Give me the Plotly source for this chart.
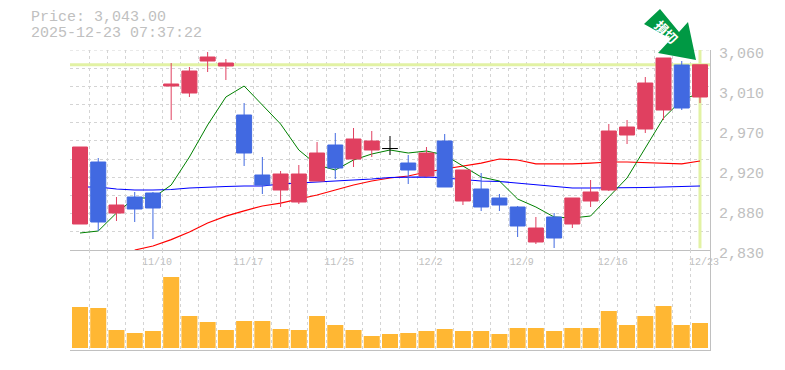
import plotly.graph_objects as go

P_TOP, P_BOT = 3060.0, 2830.0
dates = ["11/4","11/5","11/6","11/7","11/10","11/11","11/12","11/13","11/14","11/15","11/17","11/18","11/19","11/20","11/25","11/26","11/27","11/28","12/1","12/2","12/3","12/4","12/5","12/8","12/9","12/10","12/11","12/12","12/15","12/16","12/17","12/18","12/19","12/22","12/23"]
opens  = [2859.9,2931.2,2872.55,2890.95,2895.55,3018.6,3010.55,3047.35,3041.6,2985.25,2916.25,2899,2885.2,2909.35,2950.75,2934.65,2945,2946.7,2930.05,2915.1,2955.35,2886.35,2900.15,2889.8,2879.45,2839.2,2867.95,2859.9,2886.35,2899,2962.25,2969.15,2991,3042.75,3005.95]
closes = [2948.45,2862.2,2881.75,2877.15,2878.3,3020.9,3035.85,3051.95,3045.05,2941.55,2904.75,2917.4,2917.4,2941.55,2924.3,2957.65,2955.35,2946.7,2922,2941.55,2902.45,2922,2879.45,2881.75,2857.6,2855.3,2843.8,2889.8,2896.7,2966.85,2971.45,3022.05,3050.8,2993.3,3043]
highs  = [2948.45,2935.8,2890.95,2896.7,2896.7,3045.05,3040.45,3057.7,3049.65,2999.05,2936.95,2920.85,2927.75,2954.2,2964.55,2970.3,2966.85,2961.1,2939.25,2948.45,2963.4,2922,2918.55,2894.4,2880.6,2867.95,2872.55,2889.8,2910.5,2974.9,2979.5,3028.95,3050.8,3047.35,3043]
lows   = [2859.9,2851.85,2863.35,2862.2,2842.65,2979.5,3005.95,3034.7,3025.5,2926.6,2894.4,2879.45,2882.9,2909.35,2911.65,2925.45,2936.95,2939.25,2905.9,2913.95,2902.45,2881.75,2874.85,2874.85,2844.95,2836.9,2832.3,2855.3,2879.45,2897.85,2951.9,2964.55,2979.5,2991,2999.05]
volumes = [41,40,18,15,17,71,32,26,18,27,27,19,18,32,23,18,12,14,15,17,19,17,17,14,20,20,17,20,20,37,23,32,42,23,25]
ma_fast = [2849.55,2851.85,2872.55,2889.8,2889.8,2904.75,2936.95,2973.75,3005.95,3018.6,2996.75,2974.9,2945,2927.75,2922,2933.5,2940.4,2945,2941.55,2943.85,2939.25,2926.6,2913.95,2909.35,2888.65,2879.45,2867.95,2866.8,2869.1,2891,2912.8,2947.3,2981.8,3002.5,3010.55]
ma_mid  = [2902.45,2902.45,2900.15,2899,2899,2899.6,2901.3,2902.45,2903,2903.6,2903.6,2905.9,2907,2908.2,2909.35,2910.5,2911.65,2913.4,2914,2914,2912.8,2911.1,2909.35,2908.8,2907,2904.75,2903.6,2901.3,2901.3,2901.3,2901.3,2901.9,2902.45,2903,2903.6]
ma_slow = [None,None,None,2830,2834.6,2842,2850.7,2861,2869,2875,2880.6,2884,2888.65,2893.25,2899,2904.75,2909.35,2912.8,2915.1,2919.7,2923.15,2926.6,2930,2934.65,2933.5,2929,2929,2929,2930,2931.2,2931.2,2930.6,2930,2929,2932.35]
last_price = [3043.0]
price_ticks = [3060, 3014, 2968, 2922, 2876, 2830]
price_labels = ["3,060", "3,010", "2,970", "2,920", "2,880", "2,830"]
date_idx = [4, 9, 14, 19, 24, 29, 34]
date_labels = ["11/10", "11/17", "11/25", "12/2", "12/9", "12/16", "12/23"]
title_lines = ["Price: 3,043.00", "2025-12-23 07:37:22"]
signal_text = "損切"

x = list(range(len(dates)))
FONT = "Liberation Mono"
GREY = "#c0c0c0"
GRID = "#d4d4d4"
RED = "#e04060"
BLUE = "#4169e1"
OFF = 8  # page body margin
W, H = 785 - OFF, 370 - OFF
L, R, T, MID, B = 70 - OFF, 710 - OFF, 50 - OFF, 250 - OFF, 350 - OFF
XR = [(70 - 80) / 18.235, (710 - 80) / 18.235]
px = lambda a: (a - OFF - L) / (R - L)
py = lambda a: (B - (a - OFF)) / (B - T)

fig = go.Figure()
n = len(x)
fig.add_trace(go.Scatter(x=XR, y=last_price * 2, mode="lines", line=dict(color="#e2f2a4", width=3), xaxis="x", yaxis="y", hoverinfo="skip"))
fig.add_trace(go.Scatter(x=[n - 1, n - 1], y=[P_BOT + 2, P_TOP], mode="lines", line=dict(color="#e2f2a4", width=3), xaxis="x", yaxis="y", hoverinfo="skip"))
for vals, col, lw in [(ma_slow, "#ff0000", 1.2), (ma_mid, "#0000ff", 1.2), (ma_fast, "#008000", 1)]:
    fig.add_trace(go.Scatter(x=x, y=vals, mode="lines", line=dict(color=col, width=lw), xaxis="x", yaxis="y"))

doji = [i for i in x if opens[i] == closes[i]]
rest = [i for i in x if i not in doji]
pick = lambda arr, ids: [arr[i] for i in ids]
fig.add_trace(go.Candlestick(x=rest, open=pick(opens, rest), high=pick(highs, rest), low=pick(lows, rest), close=pick(closes, rest),
    increasing=dict(line=dict(color=RED, width=1), fillcolor=RED),
    decreasing=dict(line=dict(color=BLUE, width=1), fillcolor=BLUE), xaxis="x3", yaxis="y3"))
fig.add_trace(go.Candlestick(x=doji, open=pick(opens, doji), high=pick(highs, doji), low=pick(lows, doji), close=pick(closes, doji),
    increasing=dict(line=dict(color="#000000", width=1), fillcolor="#000000"),
    decreasing=dict(line=dict(color="#000000", width=1), fillcolor="#000000"), xaxis="x3", yaxis="y3"))
fig.add_trace(go.Bar(x=x, y=volumes, marker=dict(color="#ffb733", line=dict(width=0)), width=16 / 18.235, xaxis="x2", yaxis="y2"))

grid_minor = dict(tick0=-0.5, dtick=1, showgrid=True, griddash="3px,3px", gridcolor=GRID, gridwidth=1, ticks="")
vol_frac = (B - MID) / (B - T)
fig.update_layout(
    width=W, height=H, autosize=False, showlegend=False, plot_bgcolor="white", paper_bgcolor="white",
    margin=dict(l=L, r=W - R, t=T, b=H - B, autoexpand=False), boxgap=0.177, boxgroupgap=0,
    xaxis=dict(domain=[0, 1], range=XR, anchor="y", tickmode="array", tickvals=[i + 0.22 for i in date_idx], ticktext=date_labels,
               tickfont=dict(family=FONT, size=10, color=GREY), showgrid=False, minor=grid_minor, zeroline=False, ticks="",
               ticklabelstandoff=2, rangeslider=dict(visible=False), showline=True, linecolor=GREY, linewidth=1, fixedrange=True),
    xaxis2=dict(domain=[0, 1], range=XR, anchor="y2", showticklabels=False, showgrid=False, minor=grid_minor, zeroline=False, ticks="",
                showline=True, linecolor=GREY, linewidth=1, fixedrange=True),
    xaxis3=dict(overlaying="x", range=XR, anchor="y3", visible=False, rangeslider=dict(visible=False), fixedrange=True),
    yaxis=dict(domain=[vol_frac, 1], range=[P_BOT, P_TOP], side="right", anchor="x", tickmode="array",
               tickvals=price_ticks, ticktext=price_labels, tickfont=dict(family=FONT, size=15, color=GREY),
               showgrid=False, minor=dict(tick0=P_BOT, dtick=230 / 11, showgrid=True, griddash="3px,3px", gridcolor=GRID, gridwidth=1, ticks=""),
               zeroline=False, ticks="", ticklabelshift=3, ticklabelstandoff=5, showline=True, linecolor=GREY, linewidth=1, automargin=False),
    yaxis2=dict(domain=[0, vol_frac], range=[-2, 98], side="right", anchor="x2", showticklabels=False, showgrid=False,
                zeroline=False, ticks="", showline=True, linecolor=GREY, linewidth=1),
    yaxis3=dict(overlaying="y", range=[P_BOT, P_TOP], anchor="x3", visible=False, side="right"),
    annotations=[
        dict(text=title_lines[0], xref="paper", yref="paper", x=px(30), y=py(18), xanchor="left", yanchor="middle", showarrow=False,
             xshift=-1, font=dict(family=FONT, size=15, color=GREY)),
        dict(text=title_lines[1], xref="paper", yref="paper", x=px(30), y=py(33), xanchor="left", yanchor="middle", showarrow=False,
             xshift=-1, font=dict(family=FONT, size=15, color=GREY)),
        dict(text="<b>" + signal_text + "</b>", xref="paper", yref="paper", x=px(666.5), y=py(31), xanchor="center", yanchor="middle", showarrow=False, textangle=45,
             font=dict(family="Noto Sans CJK JP", size=13, color="white")),
    ],
    shapes=[
        dict(type="line", xref="x", yref="y", x0=XR[0], x1=XR[1], y0=P_TOP, y1=P_TOP, layer="below", line=dict(color=GRID, width=1, dash="3px,3px")),
        dict(type="path", xref="paper", yref="paper", layer="above", fillcolor="#009944", line=dict(width=0),
             path="M {} {} L {} {} L {} {} L {} {} L {} {} L {} {} L {} {} Z".format(*[v for p in [(644, 24), (660, 9), (679, 32), (688, 22), (696, 60), (658, 53), (671, 39)] for v in (px(p[0]), py(p[1]))]))],
)
fig.write_html("out.html")
